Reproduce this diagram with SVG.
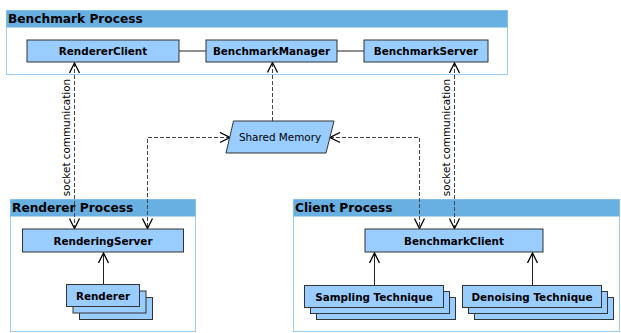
<svg xmlns="http://www.w3.org/2000/svg" width="621" height="333" viewBox="0 0 621 333">
<defs>
<marker id="open" viewBox="0 0 12 12" refX="11" refY="6" markerWidth="12" markerHeight="12" markerUnits="userSpaceOnUse" orient="auto-start-reverse">
<path d="M1,1 L11,6 L1,11" fill="none" stroke="#000" stroke-width="1.3"/>
</marker>
</defs>
<style>
.cont{fill:#fff;stroke:#9fcdf0;stroke-width:1}
.hdr{fill:#68afe2}
.title{font-family:"DejaVu Sans",sans-serif;font-size:12.2px;font-weight:bold;fill:#000}
.node{fill:#99ccff;stroke:#333;stroke-width:1}
.lbl{font-family:"DejaVu Sans",sans-serif;font-size:10.4px;font-weight:bold;fill:#000;text-anchor:middle}
.reg{font-family:"DejaVu Sans",sans-serif;font-size:10.4px;fill:#000;text-anchor:middle}
.solid{fill:none;stroke:#222;stroke-width:1}
.dash{fill:none;stroke:#444;stroke-width:1;stroke-dasharray:4,2}
</style>

<g id="benchmark-process">
<rect class="cont" x="6.5" y="10.5" width="501" height="64"/>
<rect class="hdr" x="6.5" y="10.5" width="501" height="17"/>
<text class="title" x="8" y="23">Benchmark Process</text>
</g>
<g id="renderer-process">
<rect class="cont" x="10.5" y="199.5" width="185" height="132"/>
<rect class="hdr" x="10.5" y="199.5" width="185" height="17"/>
<text class="title" x="12" y="212">Renderer Process</text>
</g>
<g id="client-process">
<rect class="cont" x="293.5" y="199.5" width="326" height="132"/>
<rect class="hdr" x="293.5" y="199.5" width="326" height="17"/>
<text class="title" x="295" y="212">Client Process</text>
</g>

<g id="connectors">
<line class="solid" x1="179" y1="51" x2="206" y2="51"/>
<line class="solid" x1="337" y1="51" x2="364" y2="51"/>
<line class="dash" x1="272.5" y1="121" x2="272.5" y2="62.5" marker-end="url(#open)"/>
<line class="dash" x1="74.5" y1="63" x2="74.5" y2="228.5" marker-start="url(#open)" marker-end="url(#open)"/>
<line class="dash" x1="454.5" y1="63" x2="454.5" y2="228.5" marker-start="url(#open)" marker-end="url(#open)"/>
<polyline class="dash" points="230,137.5 147.5,137.5 147.5,228.5" marker-start="url(#open)" marker-end="url(#open)"/>
<polyline class="dash" points="330,137.5 419.5,137.5 419.5,228.5" marker-start="url(#open)" marker-end="url(#open)"/>
<line class="solid" x1="103.5" y1="284" x2="103.5" y2="253" marker-end="url(#open)"/>
<line class="solid" x1="374.5" y1="285" x2="374.5" y2="253" marker-end="url(#open)"/>
<line class="solid" x1="532.5" y1="285" x2="532.5" y2="253" marker-end="url(#open)"/>
<text class="reg" transform="translate(70,137.5) rotate(-90)">socket communication</text>
<text class="reg" transform="translate(450,137.5) rotate(-90)">socket communication</text>
</g>

<g id="RendererClient">
<rect class="node" x="27" y="40" width="152" height="22"/>
<text class="lbl" x="103" y="55">RendererClient</text>
</g>
<g id="BenchmarkManager">
<rect class="node" x="206" y="40" width="131" height="22"/>
<text class="lbl" x="271.5" y="55">BenchmarkManager</text>
</g>
<g id="BenchmarkServer">
<rect class="node" x="364" y="40" width="124" height="22"/>
<text class="lbl" x="426" y="55">BenchmarkServer</text>
</g>
<g id="SharedMemory">
<polygon class="node" points="233.5,121 334,121 326,153 226,153"/>
<text class="reg" x="280" y="141">Shared Memory</text>
</g>
<g id="RenderingServer">
<rect class="node" x="22.5" y="229" width="161" height="23"/>
<text class="lbl" x="103" y="244.5">RenderingServer</text>
</g>
<g id="Renderer">
<rect class="node" x="79.5" y="297.5" width="73" height="22"/>
<rect class="node" x="73" y="291" width="73" height="22"/>
<rect class="node" x="66.5" y="284.5" width="73" height="22"/>
<text class="lbl" x="103" y="299.5">Renderer</text>
</g>
<g id="BenchmarkClient">
<rect class="node" x="365" y="229" width="178" height="23"/>
<text class="lbl" x="454" y="244.5">BenchmarkClient</text>
</g>
<g id="SamplingTechnique">
<rect class="node" x="316.5" y="297.5" width="139" height="22"/>
<rect class="node" x="310.5" y="291.5" width="139" height="22"/>
<rect class="node" x="304.5" y="285.5" width="139" height="22"/>
<text class="lbl" x="374" y="300.5">Sampling Technique</text>
</g>
<g id="DenoisingTechnique">
<rect class="node" x="474.5" y="297.5" width="139" height="22"/>
<rect class="node" x="468.5" y="291.5" width="139" height="22"/>
<rect class="node" x="462.5" y="285.5" width="139" height="22"/>
<text class="lbl" x="532" y="300.5">Denoising Technique</text>
</g>
</svg>
